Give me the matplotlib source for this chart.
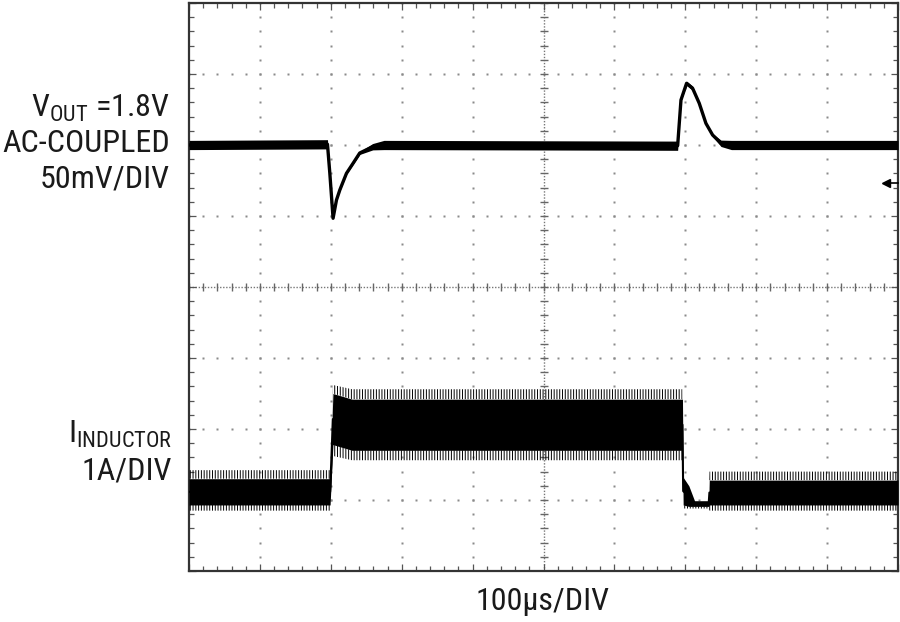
import numpy as np
import matplotlib
matplotlib.use("Agg")
import matplotlib.pyplot as plt
from matplotlib import font_manager
from matplotlib.ticker import MultipleLocator, NullFormatter

# ---------------- data (oscilloscope divisions) ----------------
# V_OUT trace (AC coupled, 50mV/DIV) : x in divisions, y in divisions
vout_x = [0.0, 1.953, 1.986, 2.032, 2.080, 2.127, 2.221, 2.314, 2.408, 2.592, 2.75,
          6.892, 6.939, 7.018, 7.103, 7.197, 7.291, 7.385, 7.503, 7.65, 10.0]
vout_y = [6.0, 6.01, 5.606, 4.968, 5.225, 5.366, 5.601, 5.742, 5.887, 5.976, 6.0,
          5.99, 6.634, 6.869, 6.799, 6.587, 6.305, 6.141, 6.024, 6.0, 6.0]
vout_halfband = [0.065, 0.065, 0.015, 0.015, 0.015, 0.015, 0.015, 0.015, 0.02, 0.045, 0.065,
                 0.065, 0.015, 0.03, 0.03, 0.015, 0.015, 0.02, 0.045, 0.065, 0.065]

# Inductor current trace (1A/DIV): core envelope and spike envelope
il_x      = [0.0, 1.99, 2.03, 2.3, 6.96, 6.97, 7.05, 7.13, 7.33, 7.34, 10.0]
il_hi     = [1.30, 1.30, 2.50, 2.42, 2.42, 1.32, 1.20, 0.99, 0.99, 1.28, 1.28]
il_lo     = [0.93, 0.93, 1.78, 1.70, 1.70, 0.93, 0.91, 0.91, 0.91, 0.93, 0.93]
il_spk_hi = [1.42, 1.42, 2.62, 2.56, 2.56, 1.32, 1.20, 0.99, 0.99, 1.40, 1.40]
il_spk_lo = [0.85, 0.85, 1.62, 1.56, 1.56, 0.88, 0.88, 0.88, 0.88, 0.85, 0.85]

ch1_ref_level = 5.46   # ground reference marker on right edge

n_xdiv, n_ydiv = 10, 8

# ---------------- font choice (condensed if available) ----------------
fam, fs = 'Liberation Sans', 18.5
for cand, size in [('Liberation Sans Narrow', 22.0), ('Roboto Condensed', 23.0),
                   ('Arial Narrow', 22.0)]:
    try:
        font_manager.findfont(font_manager.FontProperties(family=cand),
                              fallback_to_default=False)
        fam, fs = cand, size
        break
    except Exception:
        pass

plt.rcParams['font.family'] = [fam, 'Liberation Sans', 'DejaVu Sans']
plt.rcParams['hatch.linewidth'] = 0.7

fig = plt.figure(figsize=(9, 6.22), dpi=100)
W, H = 900, 622
ax = fig.add_axes([189 / W, 51 / H, 709 / W, 568 / H])
ax.set_xlim(0, n_xdiv)
ax.set_ylim(0, n_ydiv)

# grid dots
gcol = '#8a8a8a'
dots_y = np.arange(0, n_ydiv + 0.001, 0.2)
dots_x = np.arange(0, n_xdiv + 0.001, 0.2)
for xi in range(1, n_xdiv):
    if xi == n_xdiv // 2:
        continue
    ax.plot([xi] * len(dots_y), dots_y, ls='none', marker='s', ms=1.5,
            mec='none', mfc=gcol, zorder=1)
for yi in range(1, n_ydiv):
    if yi == n_ydiv // 2:
        continue
    ax.plot(dots_x, [yi] * len(dots_x), ls='none', marker='s', ms=1.5,
            mec='none', mfc=gcol, zorder=1)

# center graticule lines with ticks
ax.plot([0, n_xdiv], [n_ydiv / 2] * 2, ls=(0, (1, 1.2)), lw=1.0, color='#777', zorder=1)
ax.plot([n_xdiv / 2] * 2, [0, n_ydiv], ls=(0, (1, 1.2)), lw=1.0, color='#777', zorder=1)
ax.plot(dots_x, [n_ydiv / 2] * len(dots_x), ls='none', marker='|', ms=6,
        mew=1.0, color='#666', zorder=1)
ax.plot([n_xdiv / 2] * len(dots_y), dots_y, ls='none', marker='_', ms=6,
        mew=1.0, color='#666', zorder=1)

# V_OUT trace
vy = np.array(vout_y)
vb = np.array(vout_halfband)
ax.fill_between(vout_x, vy - vb, vy + vb, color='black', lw=0, zorder=3)
ax.plot(vout_x, vout_y, color='black', lw=2.4, solid_joinstyle='round', zorder=3)

# inductor current trace
ax.fill_between(il_x, il_hi, il_spk_hi, facecolor='none', edgecolor='black',
                hatch='||||||', lw=0, zorder=3)
ax.fill_between(il_x, il_spk_lo, il_lo, facecolor='none', edgecolor='black',
                hatch='||||||', lw=0, zorder=3)
ax.fill_between(il_x, il_lo, il_hi, color='black', lw=0, zorder=4)
ax.plot(il_x, [(a + b) / 2 for a, b in zip(il_lo, il_hi)], color='black', lw=1.5, zorder=4)

# reference marker
ax.plot([9.86, n_xdiv], [ch1_ref_level] * 2, color='black', lw=1.2, zorder=5, clip_on=False)
ax.plot([9.83], [ch1_ref_level], marker='<', ms=6, color='black', zorder=5, clip_on=False)

# frame & ticks
for s in ax.spines.values():
    s.set_color('#333333')
    s.set_linewidth(1.6)
ax.xaxis.set_major_locator(MultipleLocator(1))
ax.yaxis.set_major_locator(MultipleLocator(1))
ax.xaxis.set_minor_locator(MultipleLocator(0.2))
ax.yaxis.set_minor_locator(MultipleLocator(0.2))
ax.xaxis.set_major_formatter(NullFormatter())
ax.yaxis.set_major_formatter(NullFormatter())
ax.tick_params(which='both', direction='in', top=True, right=True,
               color='#555', width=0.9)
ax.tick_params(which='major', length=5)
ax.tick_params(which='minor', length=3.5)

# ---------------- labels ----------------
def ft(x, y, s, **kw):
    fig.text(x / W, 1 - y / H, s, fontsize=fs, color='#1a1a1a', va='baseline', **kw)

ft(170, 117, r'$\mathregular{V_{OUT}}$ =1.8V', ha='right')
ft(170, 152, 'AC-COUPLED', ha='right')
ft(170, 187, '50mV/DIV', ha='right')
ft(172, 443, r'$\mathregular{I_{INDUCTOR}}$', ha='right')
ft(172, 480, '1A/DIV', ha='right')
ft(543, 610, '100µs/DIV', ha='center')

fig.savefig('out.png', dpi=100, facecolor='white')
